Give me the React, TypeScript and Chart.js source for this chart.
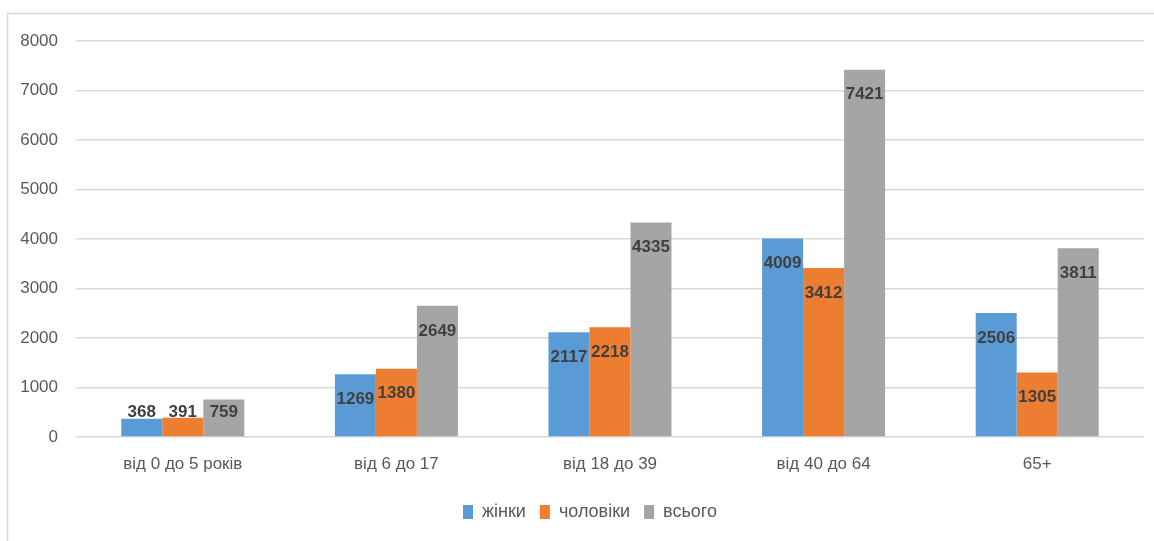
import React, { useEffect, useRef } from "react";
import { Chart, registerables } from "chart.js";

Chart.register(...registerables);

const categories = ["від 0 до 5 років", "від 6 до 17", "від 18 до 39", "від 40 до 64", "65+"];
const women = [368, 1269, 2117, 4009, 2506];
const men = [391, 1380, 2218, 3412, 1305];
const total = [759, 2649, 4335, 7421, 3811];
const seriesNames = ["жінки", "чоловіки", "всього"];
const yTicks = [0, 1000, 2000, 3000, 4000, 5000, 6000, 7000, 8000];

const FONT = "'Liberation Sans', Arial, sans-serif";

const framePlugin = {
  id: "frame",
  beforeDraw(chart: any) {
    if (chart.legend) {
      chart.legend.left = 36;
      chart.legend.right = chart.width - 10;
    }
    const ctx = chart.ctx;
    ctx.save();
    ctx.fillStyle = "#ffffff";
    ctx.fillRect(0, 0, chart.width, chart.height);
    ctx.strokeStyle = "#d9d9d9";
    ctx.lineWidth = 1.5;
    ctx.beginPath();
    ctx.moveTo(7.5, chart.height);
    ctx.lineTo(7.5, 13.5);
    ctx.lineTo(chart.width, 13.5);
    ctx.stroke();
    ctx.restore();
  },
};

const labelPlugin = {
  id: "barLabels",
  afterDatasetsDraw(chart: any) {
    const ctx = chart.ctx;
    ctx.save();
    ctx.font = `bold 17px ${FONT}`;
    ctx.fillStyle = "#404040";
    ctx.textAlign = "center";
    ctx.textBaseline = "middle";
    chart.data.datasets.forEach((ds: any, i: number) => {
      const meta = chart.getDatasetMeta(i);
      meta.data.forEach((el: any, j: number) => {
        const y = Math.min(el.y + 25, el.base - 24);
        ctx.fillText(String(ds.data[j]), el.x, y);
      });
    });
    ctx.restore();
  },
};

export default function App() {
  const ref = useRef<HTMLCanvasElement | null>(null);
  useEffect(() => {
    if (!ref.current) return;
    const chart = new Chart(ref.current, {
      type: "bar",
      data: {
        labels: categories,
        datasets: [
          { label: seriesNames[0], data: women, backgroundColor: "#5B9BD5" },
          { label: seriesNames[1], data: men, backgroundColor: "#ED7D31" },
          { label: seriesNames[2], data: total, backgroundColor: "#A5A5A5" },
        ],
      },
      options: {
        responsive: false,
        animation: false,
        layout: { padding: { top: 41, right: 10, left: 0, bottom: 10 } },
        datasets: {
          bar: { categoryPercentage: 0.576, barPercentage: 1.0 },
        },
        scales: {
          x: {
            grid: { display: false, drawTicks: false },
            border: { display: false },
            ticks: {
              color: "#595959",
              font: { family: FONT, size: 17 },
              padding: 17,
              maxRotation: 0,
            },
            afterFit(scale: any) {
              scale.height = 52;
            },
          },
          y: {
            min: 0,
            max: 8000,
            afterBuildTicks(scale: any) {
              scale.ticks = yTicks.map((v) => ({ value: v }));
            },
            grid: { color: "#d9d9d9", lineWidth: 1.5, drawTicks: false },
            border: { display: false },
            ticks: {
              color: "#595959",
              font: { family: FONT, size: 17 },
              padding: 18,
              callback: (v: any) => String(v),
            },
            afterFit(scale: any) {
              scale.width = 76;
            },
          },
        },
        plugins: {
          legend: {
            position: "bottom",
            labels: {
              color: "#595959",
              font: { family: FONT, size: 18 },
              boxWidth: 10,
              boxHeight: 14,
              padding: 14,
            },
          },
          tooltip: { enabled: false },
        },
      },
      plugins: [framePlugin, labelPlugin],
    });
    return () => chart.destroy();
  }, []);
  return (
    <div style={{ position: "fixed", left: 0, top: 0, width: 1154, height: 541 }}>
      <canvas ref={ref} width={1154} height={541} />
    </div>
  );
}
